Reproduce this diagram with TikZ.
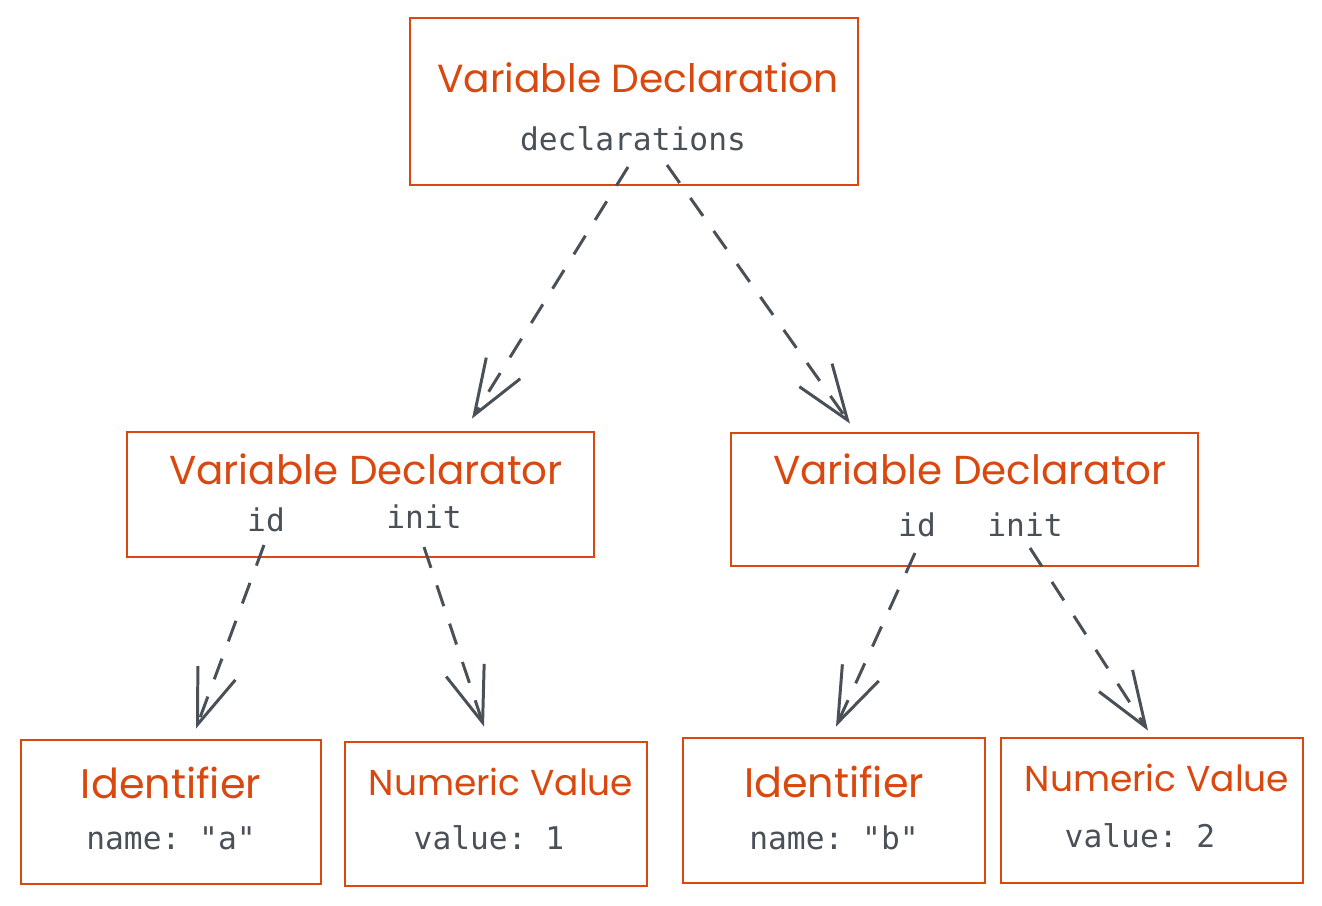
\documentclass[tikz,border=0pt]{standalone}
\usepackage{fontspec}
\setmainfont{Poppins}
\setmonofont{DejaVu Sans Mono}
\usepackage{tikz}
\usetikzlibrary{positioning}
\usetikzlibrary{calc}
\usetikzlibrary{arrows.meta}
\definecolor{astorange}{HTML}{D9480F}
\definecolor{astgray}{HTML}{495057}
\tikzset{
	astbox/.style={draw=astorange, line width=1.6pt, rectangle, inner sep=0pt},
	asttitle/.style={text=astorange, font=\fontsize{#1}{24}\selectfont, inner sep=1pt},
	asttitle/.default=22,
	astfield/.style={text=astgray, font=\ttfamily\fontsize{17.8}{21}\selectfont, inner sep=1pt},
	astlink/.style={draw=astgray, line width=1.7pt, dash pattern=on 12.5pt off 10.5pt,
		-{Straight Barb[length=1.1cm, width=0.8cm, line width=1.7pt]}}
}

\begin{document}
\begin{tikzpicture}[x=0.02cm, y=-0.02cm]
		\useasboundingbox (0,0) rectangle (1322,906);
		% boxes
		\node [astbox, minimum width=8.96cm, minimum height=3.34cm] at (634,101.5) (decl) {};
		\node [astbox, minimum width=9.34cm, minimum height=2.5cm] at (360.5,494.5) (dtorA) {};
		\node [astbox, minimum width=9.34cm, minimum height=2.66cm] at (964.5,499.5) (dtorB) {};
		\node [astbox, minimum width=6cm, minimum height=2.88cm] at (171,812) (identA) {};
		\node [astbox, minimum width=6.04cm, minimum height=2.88cm] at (496,814) (numA) {};
		\node [astbox, minimum width=6.04cm, minimum height=2.9cm] at (834,810.5) (identB) {};
		\node [astbox, minimum width=6.04cm, minimum height=2.9cm] at (1152,810.5) (numB) {};
		% texts
		\node [asttitle=22.3] at (638,78) (declTitle) {Variable Declaration};
		\node [astfield] at (633,139) (declList) {declarations};
		\node [asttitle=23] at (366,469) (dtorATitle) {Variable Declarator};
		\node [astfield] at (266,520) (dtorAId) {id};
		\node [astfield] at (424,517) (dtorAInit) {init};
		\node [asttitle=23] at (970,469) (dtorBTitle) {Variable Declarator};
		\node [astfield] at (917,525) (dtorBId) {id};
		\node [astfield] at (1025,525) (dtorBInit) {init};
		\node [asttitle=23.5] at (171,783) (identATitle) {Identifier};
		\node [astfield] at (171,838) (identAName) {name: "a"};
		\node [asttitle=20.5] at (501,782) (numATitle) {Numeric Value};
		\node [astfield] at (489,838) (numAValue) {value: 1};
		\node [asttitle=23.5] at (834,782) (identBTitle) {Identifier};
		\node [astfield] at (834,838) (identBName) {name: "b"};
		\node [asttitle=20.5] at (1157,778) (numBTitle) {Numeric Value};
		\node [astfield] at (1140,836) (numBValue) {value: 2};
		% links
		\draw [astlink] ($(declList)+(-5,28)$) -- ($(dtorA.north)+(111.5,-12)$);
		\draw [astlink] ($(declList)+(34,26)$) -- ($(dtorB.north)+(-114.5,-8)$);
		\draw [astlink] ($(dtorAId)+(-2,25)$) -- ($(identA.north)+(25,-10)$);
		\draw [astlink] ($(dtorAInit)+(0,30)$) -- ($(numA.north)+(-12,-14)$);
		\draw [astlink] ($(dtorBId)+(-2,28)$) -- ($(identB.north)+(2,-10)$);
		\draw [astlink] ($(dtorBInit)+(5,23)$) -- ($(numB.north)+(-4,-6)$);
		\end{tikzpicture}
\end{document}
